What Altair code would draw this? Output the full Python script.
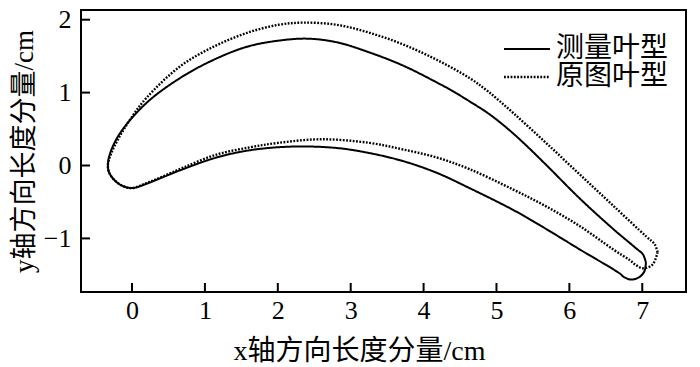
import altair as alt
import pandas as pd

series = ["测量叶型", "原图叶型"]

measured_x = [7.05, 7.01, 6.92, 6.60, 6.14, 5.68, 5.35, 5.10, 4.88, 4.63, 4.40, 4.18, 3.72, 3.26, 2.81, 2.40,
              1.99, 1.58, 1.12, 0.66, 0.20, -0.16, -0.30, -0.33,
              -0.32, -0.26, -0.15, 0.00, 0.20, 0.40, 0.70, 1.16, 1.62, 2.21, 2.81, 3.26, 3.72,
              4.18, 4.63, 5.23, 5.68, 6.14, 6.69, 6.75, 6.85, 6.96, 7.03, 7.05]
measured_y = [-1.33, -1.22, -1.14, -0.87, -0.45, 0.01, 0.33, 0.55, 0.72, 0.88, 1.02, 1.14, 1.37, 1.55, 1.69, 1.74,
              1.71, 1.63, 1.45, 1.20, 0.86, 0.45, 0.17, 0.02,
              -0.08, -0.18, -0.27, -0.31, -0.25, -0.17, -0.05, 0.11, 0.21, 0.26, 0.24, 0.17, 0.06,
              -0.10, -0.31, -0.61, -0.87, -1.15, -1.48, -1.53, -1.565, -1.53, -1.45, -1.33]

original_x = [7.21, 7.17, 7.05, 6.60, 6.14, 5.68, 5.23, 4.88, 4.63, 4.18, 3.72, 3.26, 2.81, 2.35,
              2.01, 1.58, 1.12, 0.66, 0.20, -0.02, -0.18, -0.28, -0.33,
              -0.32, -0.26, -0.15, 0.00, 0.20, 0.40, 0.70, 1.16, 1.62, 2.00, 2.60, 3.26, 3.72,
              4.18, 4.63, 5.23, 5.68, 6.14, 6.60, 6.83, 6.92, 7.01, 7.14, 7.21]
original_y = [-1.19, -1.08, -0.97, -0.55, -0.12, 0.31, 0.72, 1.02, 1.20, 1.45, 1.66, 1.82, 1.93, 1.96,
              1.93, 1.82, 1.63, 1.36, 0.93, 0.64, 0.38, 0.18, 0.02,
              -0.08, -0.18, -0.27, -0.31, -0.24, -0.16, -0.03, 0.15, 0.25, 0.31, 0.36, 0.31, 0.22,
              0.11, -0.05, -0.33, -0.56, -0.83, -1.15, -1.30, -1.37, -1.41, -1.36, -1.19]

x_ticks = [0, 1, 2, 3, 4, 5, 6, 7]
y_ticks = [-1, 0, 1, 2]

rows = []
for i, (x, y) in enumerate(zip(measured_x, measured_y)):
    rows.append({"x": x, "y": y, "curve": series[0], "idx": i})
for i, (x, y) in enumerate(zip(original_x, original_y)):
    rows.append({"x": x, "y": y, "curve": series[1], "idx": i})
df = pd.DataFrame(rows)

FONT = "'Liberation Serif', 'Noto Sans CJK SC', serif"
W, H = 605, 282

xscale = alt.Scale(domain=[-0.7, 7.6], nice=False, zero=False)
yscale = alt.Scale(domain=[-1.735, 2.133], nice=False, zero=False)

xaxis = alt.Axis(
    values=x_ticks, title="x轴方向长度分量/cm", ticks=False, domain=False, grid=False,
    labelFont=FONT, labelFontSize=26, labelColor="black", labelPadding=5,
    titleFont=FONT, titleFontSize=28, titleFontWeight="normal", titleColor="black",
    titleX=278, titleY=59, titleBaseline="middle", titleAlign="center")
yaxis = alt.Axis(
    values=y_ticks, title="y轴方向长度分量/cm", ticks=False, domain=False, grid=False,
    labelFont=FONT, labelFontSize=26, labelColor="black", labelPadding=10,
    titleFont=FONT, titleFontSize=27, titleFontWeight="normal", titleColor="black",
    titleX=-57, titleY=141, titleAngle=270, titleBaseline="middle", titleAlign="center")

lines = alt.Chart(df).mark_line(
    interpolate="catmull-rom", color="black", strokeCap="butt"
).encode(
    x=alt.X("x:Q", scale=xscale, axis=xaxis),
    y=alt.Y("y:Q", scale=yscale, axis=yaxis),
    strokeDash=alt.StrokeDash("curve:N", scale=alt.Scale(domain=series, range=[[1, 0], [1.8, 1.5]]),
                              legend=alt.Legend(
                                  title=None, orient="none", legendX=432, legendY=25,
                                  symbolType="M-3,0H3", symbolSize=235, symbolStrokeWidth=2,
                                  symbolStrokeColor="black", labelFont=FONT, labelFontSize=28,
                                  labelColor="black", labelOffset=15, rowPadding=-1, padding=0)),
    strokeWidth=alt.StrokeWidth("curve:N", scale=alt.Scale(domain=series, range=[2, 2.4]), legend=None),
    order="idx:Q",
)

xt = alt.Chart(pd.DataFrame({"x": x_ticks})).mark_rule(color="black", strokeWidth=2).encode(
    x=alt.X("x:Q", scale=xscale, axis=xaxis), y=alt.value(H), y2=alt.value(H - 9))
yt = alt.Chart(pd.DataFrame({"y": y_ticks})).mark_rule(color="black", strokeWidth=2).encode(
    y=alt.Y("y:Q", scale=yscale, axis=yaxis), x=alt.value(0), x2=alt.value(9))

top_edge = alt.Chart(pd.DataFrame({"f": [0]})).mark_rule(color="black", strokeWidth=2).encode(
    x=alt.value(-1), x2=alt.value(W + 1), y=alt.value(0))
right_edge = alt.Chart(pd.DataFrame({"f": [0]})).mark_rule(color="black", strokeWidth=2).encode(
    x=alt.value(W), y=alt.value(-1), y2=alt.value(H + 1))
left_edge = alt.Chart(pd.DataFrame({"f": [0]})).mark_rule(color="black", strokeWidth=2).encode(
    x=alt.value(0), y=alt.value(-1), y2=alt.value(H + 1))
bottom_edge = alt.Chart(pd.DataFrame({"f": [0]})).mark_rule(color="black", strokeWidth=2).encode(
    x=alt.value(-1), x2=alt.value(W + 1), y=alt.value(H))

chart = alt.layer(lines, xt, yt, top_edge, right_edge, left_edge, bottom_edge).properties(
    width=W, height=H, autosize="none",
    padding={"left": 73, "top": 2, "right": 6, "bottom": 75},
    background="white",
).configure_view(stroke="black", strokeWidth=2)

chart.save("out.html", embed_options={"renderer": "svg", "actions": False})
